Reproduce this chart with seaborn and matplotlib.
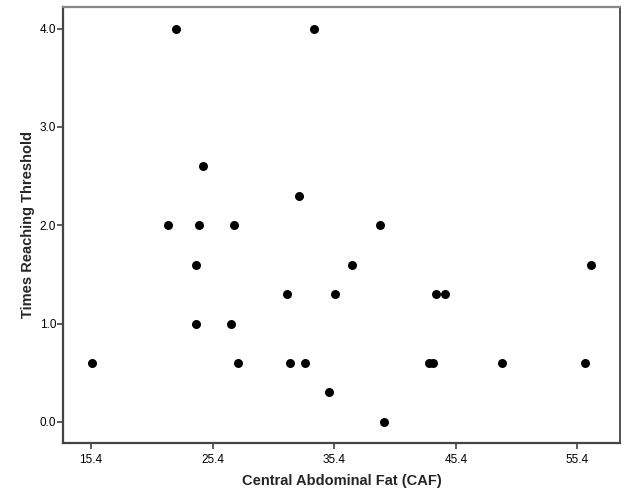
import numpy as np
import pandas as pd
import matplotlib
matplotlib.use("Agg")
import matplotlib.pyplot as plt
import seaborn as sns

# values
caf = [15.5, 21.7, 22.4, 24.0, 24.0, 24.3, 24.6, 26.9, 27.2, 27.5,
       31.5, 31.8, 32.5, 33.0, 33.7, 35.0, 35.5, 36.9, 39.2, 39.5,
       43.2, 43.5, 43.8, 44.5, 49.2, 56.0, 56.5]
times = [0.6, 2.0, 4.0, 1.6, 1.0, 2.0, 2.6, 1.0, 2.0, 0.6,
         1.3, 0.6, 2.3, 0.6, 4.0, 0.3, 1.3, 1.6, 2.0, 0.0,
         0.6, 0.6, 1.3, 1.3, 0.6, 0.6, 1.6]
x_ticks = [15.4, 25.4, 35.4, 45.4, 55.4]
y_ticks = [0.0, 1.0, 2.0, 3.0, 4.0]

df = pd.DataFrame({"caf": caf, "times": times})

sns.set_style("white")
plt.rcParams["font.family"] = ["Liberation Sans", "DejaVu Sans"]

fig = plt.figure(figsize=(6.29, 5.04), dpi=100)
ax = fig.add_axes([63 / 629, 61 / 504, 557 / 629, 436 / 504])

sns.scatterplot(data=df, x="caf", y="times", ax=ax, color="black",
                s=42, edgecolor="black", linewidth=0, legend=False)

ax.set_xlim(13.1, 58.9)
ax.set_ylim(-0.214, 4.22)
ax.set_xticks(x_ticks)
ax.set_xticklabels([f"{v:.1f}" for v in x_ticks])
ax.set_yticks(y_ticks)
ax.set_yticklabels([f"{v:.1f}" for v in y_ticks])

ax.tick_params(axis="both", direction="out", length=4, width=1.2,
               color="#444444", labelsize=8.5, labelcolor="black", pad=1,
               bottom=True, left=True)
ax.tick_params(axis="x", pad=4)

for side in ["left", "bottom"]:
    ax.spines[side].set_color("#444444")
    ax.spines[side].set_linewidth(1.6)
ax.spines["top"].set_color("#888888")
ax.spines["top"].set_linewidth(1.6)
ax.spines["right"].set_color("#333333")
ax.spines["right"].set_linewidth(1.2)

ax.set_xlabel("Central Abdominal Fat (CAF)", fontsize=10.5, fontweight="bold", labelpad=6)
ax.set_ylabel("Times Reaching Threshold", fontsize=10.5, fontweight="bold", labelpad=3)

fig.savefig("out.png", dpi=100)
